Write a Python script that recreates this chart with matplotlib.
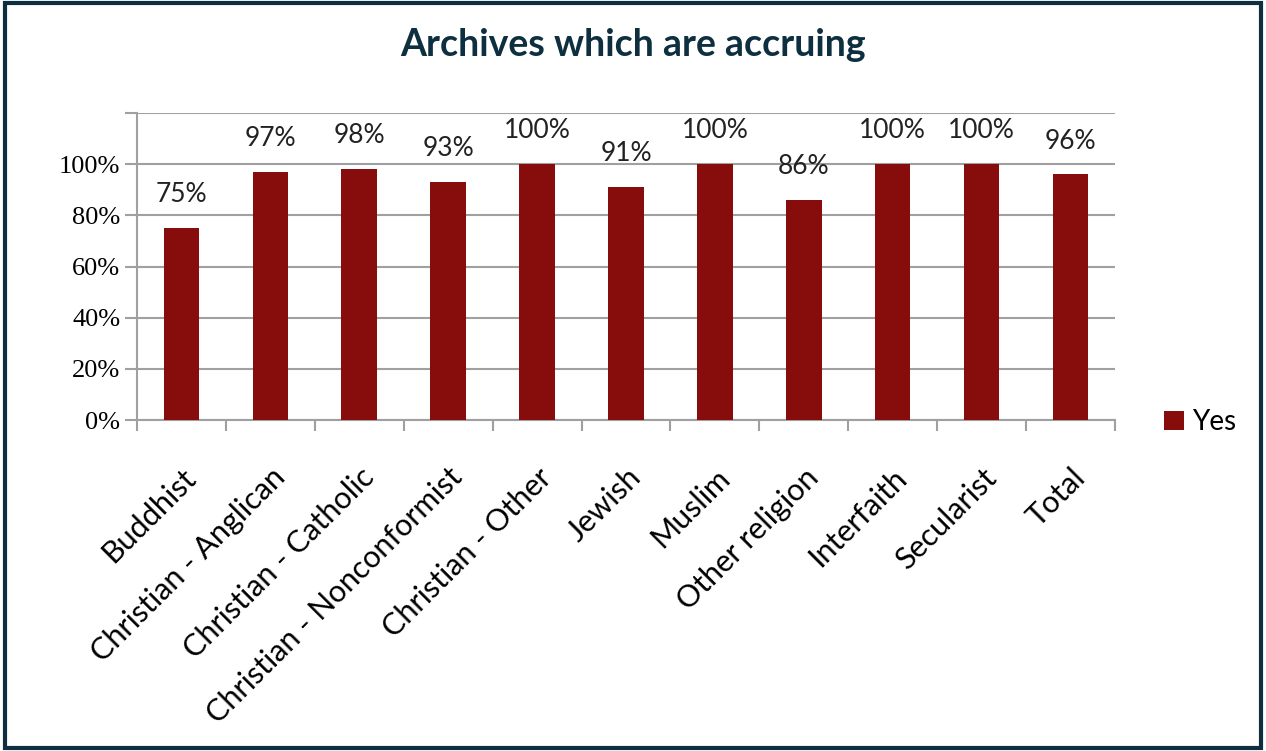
import matplotlib
matplotlib.use('Agg')
import matplotlib.pyplot as plt
import matplotlib.transforms as mtransforms
import numpy as np
from matplotlib.patches import Rectangle

categories = ['Buddhist', 'Christian - Anglican', 'Christian - Catholic',
              'Christian - Nonconformist', 'Christian - Other', 'Jewish',
              'Muslim', 'Other religion', 'Interfaith', 'Secularist', 'Total']
yes_pct = [75, 97, 98, 93, 100, 91, 100, 86, 100, 100, 96]
y_ticks = [0, 20, 40, 60, 80, 100]

bar_color = '#870c0c'
grid_color = '#a0a0a0'
navy = '#0e2f3f'

fig = plt.figure(figsize=(12.66, 7.51), dpi=100)
ax = fig.add_axes([0.1082, 0.4407, 0.7725, 0.4088])

x = np.arange(len(categories))
ax.bar(x, yes_pct, width=0.4, color=bar_color, label='Yes', zorder=3)

for xi, v in zip(x, yes_pct):
    ax.annotate(f'{v}%', (xi, v), xytext=(0, 15), textcoords='offset points',
                ha='center', va='bottom', fontsize=19, family='Lato',
                color='#222222')

ax.set_xlim(-0.5, len(categories) - 0.5)
ax.set_ylim(0, 120)
ax.set_yticks(y_ticks + [120])
ax.set_yticklabels([f'{t}%' for t in y_ticks] + [''], family='Liberation Serif',
                   fontsize=19)
ax.yaxis.grid(True, color=grid_color, linewidth=1.5, zorder=0)
ax.tick_params(axis='y', length=9, width=1.5, color=grid_color, pad=3)

ax.set_xticks(x)
ax.set_xticklabels(categories, rotation=45, ha='right', rotation_mode='anchor',
                   family='Lato', fontsize=22)
shift = mtransforms.ScaledTranslation(-5 / 100, 0, fig.dpi_scale_trans)
for lbl in ax.get_xticklabels():
    lbl.set_transform(lbl.get_transform() + shift)
ax.set_xticks(np.arange(len(categories) + 1) - 0.5, minor=True)
ax.tick_params(axis='x', which='major', length=0, pad=31)
ax.tick_params(axis='x', which='minor', length=8, width=1.5, color=grid_color)

for s in ['top', 'right']:
    ax.spines[s].set_visible(False)
for s in ['left', 'bottom']:
    ax.spines[s].set_color(grid_color)
    ax.spines[s].set_linewidth(1.5)

leg = fig.legend(loc='center left', bbox_to_anchor=(0.9, 0.438), frameon=False,
                 prop={'family': 'Lato', 'size': 20}, handlelength=0.7,
                 handleheight=0.7, handletextpad=0.3)

fig.text(0.5, 0.94, 'Archives which are accruing', ha='center', va='center',
         fontsize=27, fontweight='bold', color=navy, family='Lato')

fig.patches.append(Rectangle((0.004, 0.004), 0.992, 0.992, transform=fig.transFigure,
                             fill=False, edgecolor=navy, linewidth=3))

fig.savefig('out.png', dpi=100)
